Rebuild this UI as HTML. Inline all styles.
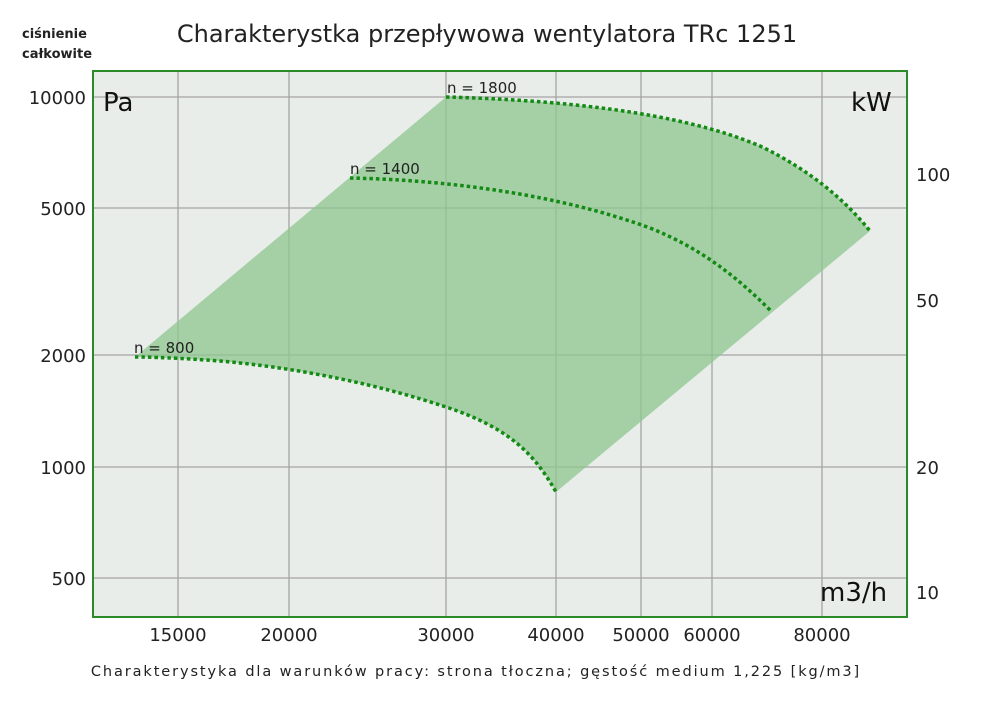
<!DOCTYPE html>
<html><head><meta charset="utf-8"><style>
body{margin:0;background:#fff;width:1000px;height:706px;overflow:hidden;font-family:"DejaVu Sans","Liberation Sans",sans-serif}
</style></head><body>
<svg width="1000" height="706" xmlns="http://www.w3.org/2000/svg" font-family="DejaVu Sans, Liberation Sans, sans-serif">
<rect x="93" y="71" width="814" height="546" fill="#e8edea"/>
<g stroke="#a4a4a4" stroke-width="1.3">
<line x1="178" y1="71" x2="178" y2="617"/><line x1="289" y1="71" x2="289" y2="617"/>
<line x1="446" y1="71" x2="446" y2="617"/><line x1="556" y1="71" x2="556" y2="617"/>
<line x1="641" y1="71" x2="641" y2="617"/><line x1="712" y1="71" x2="712" y2="617"/>
<line x1="822" y1="71" x2="822" y2="617"/>
<line x1="93" y1="97" x2="907" y2="97"/><line x1="93" y1="208" x2="907" y2="208"/>
<line x1="93" y1="355" x2="907" y2="355"/><line x1="93" y1="467" x2="907" y2="467"/>
<line x1="93" y1="578" x2="907" y2="578"/>
</g>
<path d="M135,357 L446,97 C560,100 680,112 760,146 C810,170 845,200 870,231 L556,492 C535,455 510,428 446,407 C380,385 300,368 220,361 C180,358 150,357 135,357 Z" fill="#8fc58f" fill-opacity="0.75"/>
<g fill="none" stroke="#138a13" stroke-width="3.5" stroke-dasharray="3.5,3">
<path d="M446,97 C560,100 680,112 760,146 C810,170 845,200 870,231"/>
<path d="M350,178 C450,180 560,195 650,228 C700,248 735,275 772,312"/>
<path d="M135,357 C150,357 180,358 220,361 C300,368 380,385 446,407 C510,428 535,455 556,492"/>
</g>
<rect x="93" y="71" width="814" height="546" fill="none" stroke="#2a8a2a" stroke-width="2"/>
<g font-size="15" fill="#222">
<text x="447" y="93">n = 1800</text><text x="350" y="174">n = 1400</text><text x="134" y="353">n = 800</text>
</g>
<g font-size="26" fill="#111"><text x="103" y="111">Pa</text><text x="851" y="111">kW</text><text x="820" y="601">m3/h</text></g>
<g font-size="18" fill="#222" text-anchor="end">
<text x="86" y="104">10000</text><text x="86" y="215">5000</text><text x="86" y="362">2000</text><text x="86" y="474">1000</text><text x="86" y="585">500</text>
</g>
<g font-size="18" fill="#222">
<text x="916" y="181">100</text><text x="916" y="307">50</text><text x="916" y="474">20</text><text x="916" y="599">10</text>
</g>
<g font-size="18" fill="#222" text-anchor="middle">
<text x="178" y="641">15000</text><text x="289" y="641">20000</text><text x="446" y="641">30000</text><text x="556" y="641">40000</text><text x="641" y="641">50000</text><text x="712" y="641">60000</text><text x="822" y="641">80000</text>
</g>
<text x="487" y="42" font-size="24" fill="#222" text-anchor="middle">Charakterystka przepływowa wentylatora TRc 1251</text>
<text x="22" y="38" font-size="13" font-weight="bold" fill="#222">ciśnienie</text>
<text x="22" y="58" font-size="13" font-weight="bold" fill="#222">całkowite</text>
<text x="476" y="676" font-size="14.5" fill="#222" text-anchor="middle" letter-spacing="1.9">Charakterystyka dla warunków pracy: strona tłoczna; gęstość medium 1,225 [kg/m3]</text>
</svg>
</body></html>
